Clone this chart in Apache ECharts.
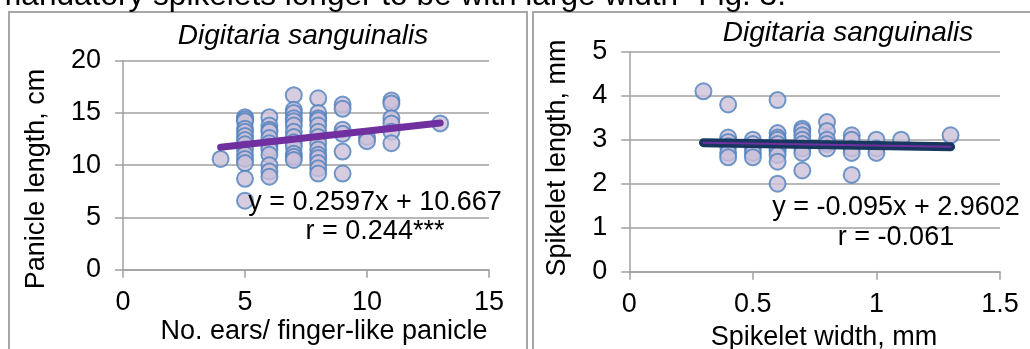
<!DOCTYPE html>
<html>
<head>
<meta charset="utf-8">
<script src="https://cdn.jsdelivr.net/npm/echarts@6/dist/echarts.min.js"></script>
<style>
html,body{margin:0;padding:0;background:#fff;overflow:hidden;}
#c{width:1030px;height:349px;}
</style>
</head>
<body>
<div id="c"></div>
<script>
// ---- Left chart data: No. ears per finger-like panicle vs panicle length (cm)
const earsX = [4,
  5,5,5,5,5,5,5,5,5,5,5,5,5,5,
  6,6,6,6,6,6,6,6,6,6,6,6,
  7,7,7,7,7,7,7,7,7,7,7,7,7,
  8,8,8,8,8,8,8,8,8,8,8,8,8,8,
  9,9,9,9,9,9,
  10,10,
  11,11,11,11,11,11,
  13];
const panicleY = [10.6,
  14.6,14.4,14.2,13.5,13.2,12.8,12.4,12.0,11.5,11.0,10.6,10.2,8.7,6.6,
  14.6,13.8,13.4,13.2,12.6,12.1,11.8,11.5,11.0,10.0,9.4,8.9,
  16.7,15.3,15.0,14.5,14.2,13.8,13.2,12.7,12.2,11.8,11.1,10.8,10.5,
  16.4,15.0,14.5,14.3,13.8,13.2,12.7,12.1,11.5,11.0,10.7,10.2,9.7,9.2,
  15.8,15.4,13.4,13.0,11.3,9.2,
  12.7,12.3,
  16.2,15.9,14.5,14.0,13.2,12.1,
  14.0];
const trendLeftX = [4, 13];
const trendLeftY = [11.71, 14.04];

// ---- Right chart data: spikelet width (mm) vs spikelet length (mm)
const widthX = [0.3,
  0.4,0.4,0.4,0.4,0.4,0.4,
  0.5,0.5,0.5,0.5,0.5,
  0.6,0.6,0.6,0.6,0.6,0.6,0.6,0.6,0.6,0.6,
  0.7,0.7,0.7,0.7,0.7,0.7,0.7,0.7,
  0.8,0.8,0.8,0.8,0.8,
  0.9,0.9,0.9,0.9,0.9,
  1.0,1.0,1.0,
  1.1,
  1.3];
const lengthY = [4.1,
  3.8,3.05,2.95,2.85,2.7,2.6,
  3.0,2.9,2.8,2.7,2.6,
  3.9,3.15,3.05,3.0,2.9,2.8,2.75,2.65,2.5,2.0,
  3.25,3.2,3.1,3.0,2.9,2.8,2.7,2.3,
  3.4,3.2,3.0,2.9,2.8,
  3.1,3.0,2.8,2.7,2.2,
  3.0,2.8,2.7,
  3.0,
  3.1];
const trendRightX = [0.3, 1.3];
const trendRightY = [2.932, 2.837];

// ---- Tick labels / text
const leftXTicks = [0, 5, 10, 15];
const leftYTicks = [0, 5, 10, 15, 20];
const rightXTicks = [0, 0.5, 1, 1.5];
const rightYTicks = [0, 1, 2, 3, 4, 5];
const titleText = 'Digitaria sanguinalis';
const captionText = 'mandatory spikelets longer to be with large width" Fig. 3.';

const zip = (a, b) => a.map((v, i) => [v, b[i]]);
const FONT = '"Liberation Sans", Arial, sans-serif';
const GRID = '#a0a0a0';
const FS = 27;

function xAxisCfg(idx, ticks) {
  return {
    type: 'value', gridIndex: idx,
    min: ticks[0], max: ticks[ticks.length - 1], interval: ticks[1] - ticks[0],
    axisLine: {show: true, lineStyle: {color: GRID, width: 1.5}},
    axisTick: {show: true, length: 8, lineStyle: {color: GRID, width: 1.5}},
    splitLine: {show: false},
    axisLabel: {color: '#000', fontSize: FS, fontFamily: FONT, margin: 19}
  };
}
function yAxisCfg(idx, ticks, margin) {
  return {
    type: 'value', gridIndex: idx,
    min: ticks[0], max: ticks[ticks.length - 1], interval: ticks[1] - ticks[0],
    axisLine: {show: true, lineStyle: {color: GRID, width: 1.5}},
    axisTick: {show: true, length: 8, lineStyle: {color: GRID, width: 1.5}},
    splitLine: {show: true, lineStyle: {color: GRID, width: 1.5}},
    axisLabel: {color: '#000', fontSize: FS, fontFamily: FONT, margin: margin}
  };
}
const markerStyle = {color: '#ccc1da', borderColor: '#4f81bd', borderWidth: 2};

const chart = echarts.init(document.getElementById('c'), null, {renderer: 'canvas'});
const txt = (x, y, text, opts) => Object.assign({type: 'text', x: x, y: y, z: 10,
  style: {text: text, fill: '#000', font: FS + 'px ' + FONT, textAlign: 'center', textVerticalAlign: 'middle'}}, opts || {});
chart.setOption({
  animation: false,
  backgroundColor: '#fff',
  grid: [
    {left: 123, top: 60.7, width: 366, height: 209},
    {left: 629.3, top: 51.7, width: 370.7, height: 220}
  ],
  xAxis: [xAxisCfg(0, leftXTicks), xAxisCfg(1, rightXTicks)],
  yAxis: [yAxisCfg(0, leftYTicks, 22), yAxisCfg(1, rightYTicks, 22)],
  series: [
    {type: 'scatter', xAxisIndex: 0, yAxisIndex: 0, data: zip(earsX, panicleY),
     symbol: 'circle', symbolSize: 16, itemStyle: markerStyle, z: 2},
    {type: 'line', xAxisIndex: 0, yAxisIndex: 0, data: zip(trendLeftX, trendLeftY),
     symbol: 'none', lineStyle: {color: '#7030a0', width: 7, cap: 'round'}, z: 3},
    {type: 'scatter', xAxisIndex: 1, yAxisIndex: 1, data: zip(widthX, lengthY),
     symbol: 'circle', symbolSize: 16, itemStyle: markerStyle, z: 2},
    {type: 'line', xAxisIndex: 1, yAxisIndex: 1, data: zip(trendRightX, trendRightY),
     symbol: 'none', lineStyle: {color: '#17375e', width: 9, cap: 'round'}, z: 3},
    {type: 'line', xAxisIndex: 1, yAxisIndex: 1, data: zip(trendRightX, trendRightY),
     symbol: 'none', lineStyle: {color: '#7030a0', width: 2, cap: 'round'}, z: 4}
  ],
  graphic: [
    {type: 'rect', shape: {x: 9, y: 12, width: 518, height: 350}, z: 0,
     style: {fill: 'none', stroke: '#a6a6a6', lineWidth: 2}},
    {type: 'rect', shape: {x: 533, y: 12, width: 510, height: 350}, z: 0,
     style: {fill: 'none', stroke: '#a6a6a6', lineWidth: 2}},
    {type: 'text', x: -5, y: -4, z: 10,
     style: {text: captionText, fill: '#000', font: '31.6px ' + FONT, textAlign: 'left', textVerticalAlign: 'middle'}},
    txt(303, 36, titleText, {style: {text: titleText, fill: '#000', font: 'italic 28px ' + FONT, textAlign: 'center', textVerticalAlign: 'middle'}}),
    txt(848, 33, titleText, {style: {text: titleText, fill: '#000', font: 'italic 28px ' + FONT, textAlign: 'center', textVerticalAlign: 'middle'}}),
    txt(37, 179, 'Panicle length, cm', {rotation: Math.PI / 2}),
    txt(324, 332, 'No. ears/ finger-like panicle'),
    txt(558, 158, 'Spikelet length, mm', {rotation: Math.PI / 2}),
    txt(824, 338, 'Spikelet width, mm'),
    txt(375, 203, 'y = 0.2597x + 10.667'),
    txt(375, 232, 'r = 0.244***'),
    txt(896, 208, 'y = -0.095x + 2.9602'),
    txt(896, 238, 'r = -0.061')
  ]
});
</script>
</body>
</html>
